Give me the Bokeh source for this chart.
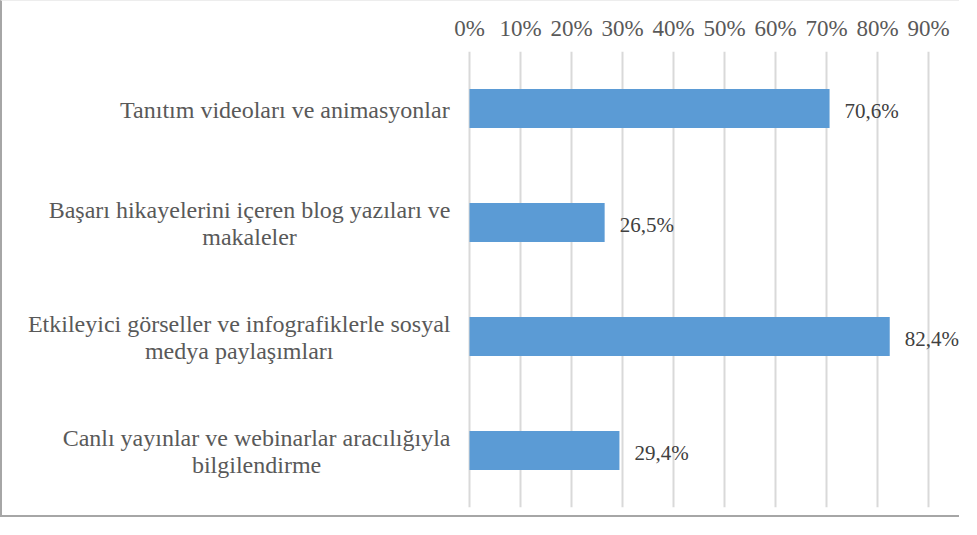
from bokeh.plotting import figure
from bokeh.models import (ColumnDataSource, FactorRange, Range1d, FixedTicker,
                          PrintfTickFormatter)
from bokeh.core.properties import value
from bokeh.embed import file_html
from bokeh.resources import INLINE

# ---- data -------------------------------------------------------------
categories = [
    "Tanıtım videoları ve animasyonlar",
    "Başarı hikayelerini içeren blog yazıları ve\nmakaleler",
    "Etkileyici görseller ve infografiklerle sosyal\nmedya paylaşımları",
    "Canlı yayınlar ve webinarlar aracılığıyla\nbilgilendirme",
]
values = [70.6, 26.5, 82.4, 29.4]
ticks = [0, 10, 20, 30, 40, 50, 60, 70, 80, 90]

# ---- style / layout ---------------------------------------------------
FONT = "'Liberation Serif', 'Times New Roman', serif"
BAR = "#5B9BD5"
W, H = 959, 517
LEFT = 467          # screen x of 0 % (inside the canvas)
PX_PER_UNIT = 5.1   # pixels per 1 %
TOP, BOTTOM = 50, 11
CAT_FS, TICK_FS, VAL_FS = 24, 23, 21
LINE_H = 27
STANDOFF = 19

# Times/Liberation Serif advance widths (1/1000 em) to centre label blocks
ADV = {' ': 250, 'a': 444, 'b': 500, 'c': 444, 'd': 500, 'e': 444, 'f': 333,
       'g': 500, 'h': 500, 'i': 278, 'j': 278, 'k': 500, 'l': 278, 'm': 778,
       'n': 500, 'o': 500, 'p': 500, 'r': 333, 's': 389, 't': 278, 'u': 500,
       'v': 500, 'w': 722, 'y': 500, 'z': 444, 'B': 667, 'C': 667, 'E': 611,
       'T': 611, 'ı': 278, 'ş': 389, 'ç': 444, 'ö': 500, 'ğ': 500, 'ü': 500}


def text_width(s, size):
    return sum(ADV.get(ch, 500) for ch in s) * size / 1000.0


x_start = -LEFT / PX_PER_UNIT
x_end = (W - 2 - LEFT) / PX_PER_UNIT

p = figure(
    y_range=FactorRange(factors=list(reversed(categories))),
    x_range=Range1d(x_start, x_end),
    x_axis_location="above",
    width=W, height=H,
    min_border_left=0, min_border_right=2,
    min_border_top=TOP, min_border_bottom=BOTTOM,
    output_backend="svg", toolbar_location=None,
)
p.outline_line_color = None
p.background_fill_color = "white"
p.border_fill_color = "white"
p.styles = {"border-left": "2px solid #A6A6A6",
            "border-bottom": "2px solid #A6A6A6",
            "border-top": "1px solid #EDEDED"}

bars = ColumnDataSource(dict(
    cat=categories, val=values,
    lab=[f"{v:.1f}%".replace(".", ",") for v in values]))

p.hbar(y="cat", right="val", left=0, height=0.34, source=bars,
       fill_color=BAR, line_color=None)

p.text(x="val", y="cat", text="lab", source=bars, x_offset=15, y_offset=2,
       text_baseline="middle", text_align="left",
       text_font=value(FONT), text_font_size=f"{VAL_FS}px",
       text_color="#404040")

# category labels: block right-aligned to the axis, lines centred
rows = dict(cat=[], txt=[], xo=[], yo=[])
for c in categories:
    lines = c.split("\n")
    bw = max(text_width(l, CAT_FS) for l in lines)
    n = len(lines)
    for i, l in enumerate(lines):
        rows["cat"].append(c)
        rows["txt"].append(l)
        rows["xo"].append(-(STANDOFF + bw / 2.0))
        rows["yo"].append((i - (n - 1) / 2.0) * LINE_H + 1)
p.text(x=0, y="cat", text="txt", x_offset="xo", y_offset="yo",
       source=ColumnDataSource(rows),
       text_align="center", text_baseline="middle",
       text_font=value(FONT), text_font_size=f"{CAT_FS}px",
       text_color="#595959")

xa = p.xaxis[0]
xa.ticker = FixedTicker(ticks=ticks)
xa.formatter = PrintfTickFormatter(format="%d%%")
xa.axis_line_color = None
xa.major_tick_line_color = None
xa.minor_tick_line_color = None
xa.major_label_text_font = FONT
xa.major_label_text_font_size = f"{TICK_FS}px"
xa.major_label_text_color = "#595959"
xa.major_label_standoff = 5

p.yaxis.visible = False

p.xgrid.ticker = FixedTicker(ticks=ticks)
p.xgrid.grid_line_color = "#D9D9D9"
p.xgrid.grid_line_width = 2
p.ygrid.grid_line_color = None

open("out.html", "w").write(file_html(p, INLINE))
